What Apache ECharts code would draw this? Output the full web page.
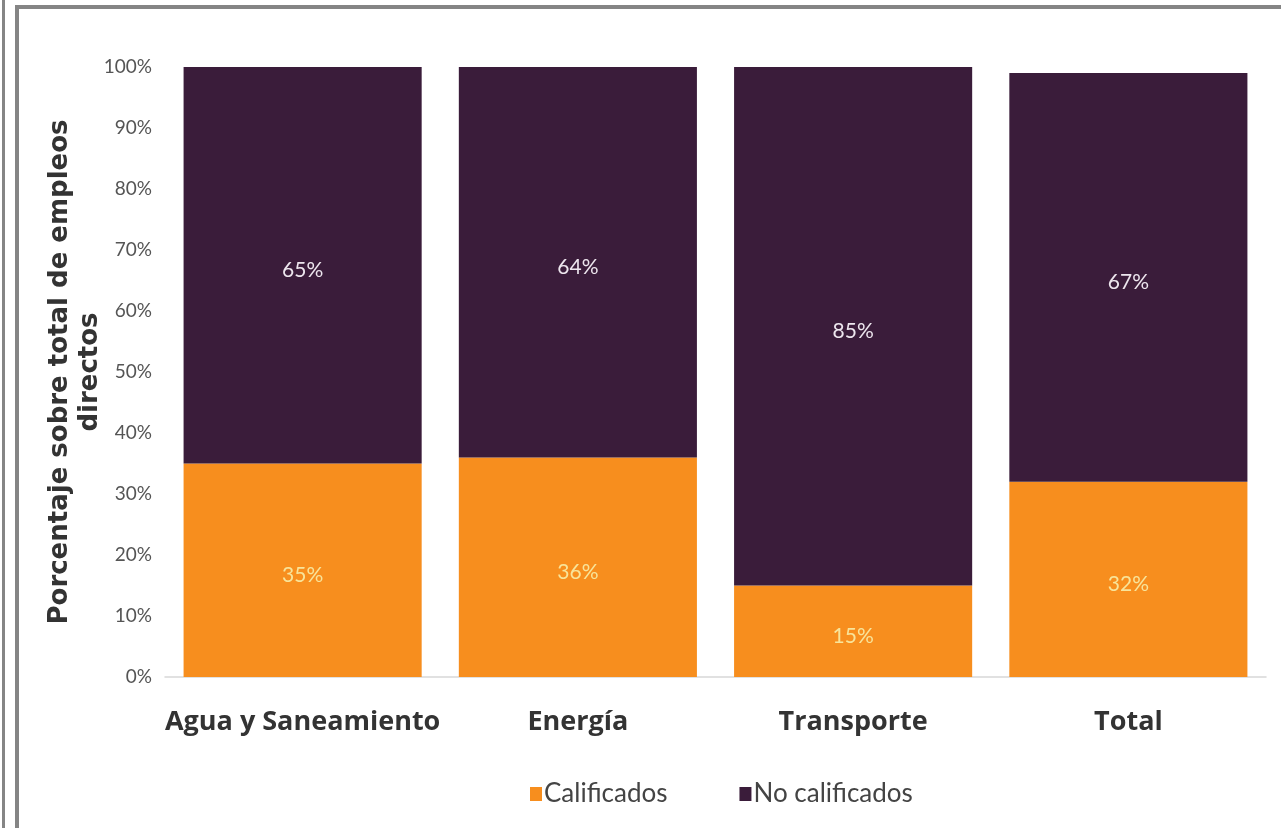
<!DOCTYPE html>
<html>
<head>
<meta charset="utf-8">
<script src="https://cdn.jsdelivr.net/npm/echarts@6/dist/echarts.min.js"></script>
<style>
  html, body { margin: 0; padding: 0; background: #fff; }
  #chart { position: absolute; left: 0; top: 0; width: 1281px; height: 828px; }
  .frame-outer { position: absolute; left: 2px; top: 0; width: 3px; height: 828px; background: #858585; }
  .frame-inner { position: absolute; left: 15px; top: 5px; right: 0; bottom: 0;
                 border-left: 4px solid #858585; border-top: 4px solid #858585; pointer-events: none; }
</style>
</head>
<body>
<div id="chart"></div>
<div class="frame-outer"></div>
<div class="frame-inner"></div>
<script>
// Sectors and share of direct jobs by skill level (%)
const categories = ['Agua y Saneamiento', 'Energía', 'Transporte', 'Total'];
const calificados = [35, 36, 15, 32];
const noCalificados = [65, 64, 85, 67];
const yTicks = [0, 10, 20, 30, 40, 50, 60, 70, 80, 90, 100];

const chart = echarts.init(document.getElementById('chart'));
const FONT = 'Lato, "Open Sans", sans-serif';

chart.setOption({
  animation: false,
  textStyle: { fontFamily: FONT },
  grid: { left: 165, right: 15, top: 67, bottom: 151 },
  legend: {
    top: 776,
    left: 525,
    itemWidth: 12,
    itemHeight: 14,
    itemGap: 72,
    icon: 'rect',
    textStyle: { fontSize: 26, color: '#444', fontFamily: FONT, padding: [0, 0, 0, -3] },
    data: ['Calificados', 'No calificados']
  },
  xAxis: {
    type: 'category',
    data: categories,
    axisLine: { lineStyle: { color: '#d8d8d8', width: 1.5 } },
    axisTick: { show: false },
    axisLabel: {
      interval: 0, fontSize: 27, fontWeight: 'bold', color: '#333', margin: 32,
      fontFamily: '"Open Sans", sans-serif'
    }
  },
  yAxis: {
    type: 'value',
    min: yTicks[0],
    max: yTicks[yTicks.length - 1],
    interval: 10,
    name: 'Porcentaje sobre total de empleos\ndirectos',
    nameLocation: 'middle',
    nameMoveOverlap: false,
    nameGap: 60,
    nameTextStyle: {
      fontSize: 26, fontWeight: 'bold', color: '#333', lineHeight: 30,
      fontFamily: '"DejaVu Sans", sans-serif'
    },
    axisLine: { show: false },
    axisTick: { show: false },
    splitLine: { show: false },
    axisLabel: { fontSize: 19, color: '#555', margin: 13, formatter: v => v + '%' }
  },
  series: [
    {
      name: 'Calificados',
      type: 'bar',
      stack: 'total',
      barWidth: '86.5%',
      data: calificados,
      itemStyle: { color: '#F78E1E' },
      label: {
        show: true, position: 'inside', offset: [0, 5],
        fontSize: 21, color: '#F8E49A', formatter: p => p.value + '%'
      }
    },
    {
      name: 'No calificados',
      type: 'bar',
      stack: 'total',
      barWidth: '86.5%',
      data: noCalificados,
      itemStyle: { color: '#3A1C3A' },
      label: {
        show: true, position: 'inside', offset: [0, 5],
        fontSize: 21, color: '#EDE6EE', formatter: p => p.value + '%'
      }
    }
  ]
});
</script>
</body>
</html>
